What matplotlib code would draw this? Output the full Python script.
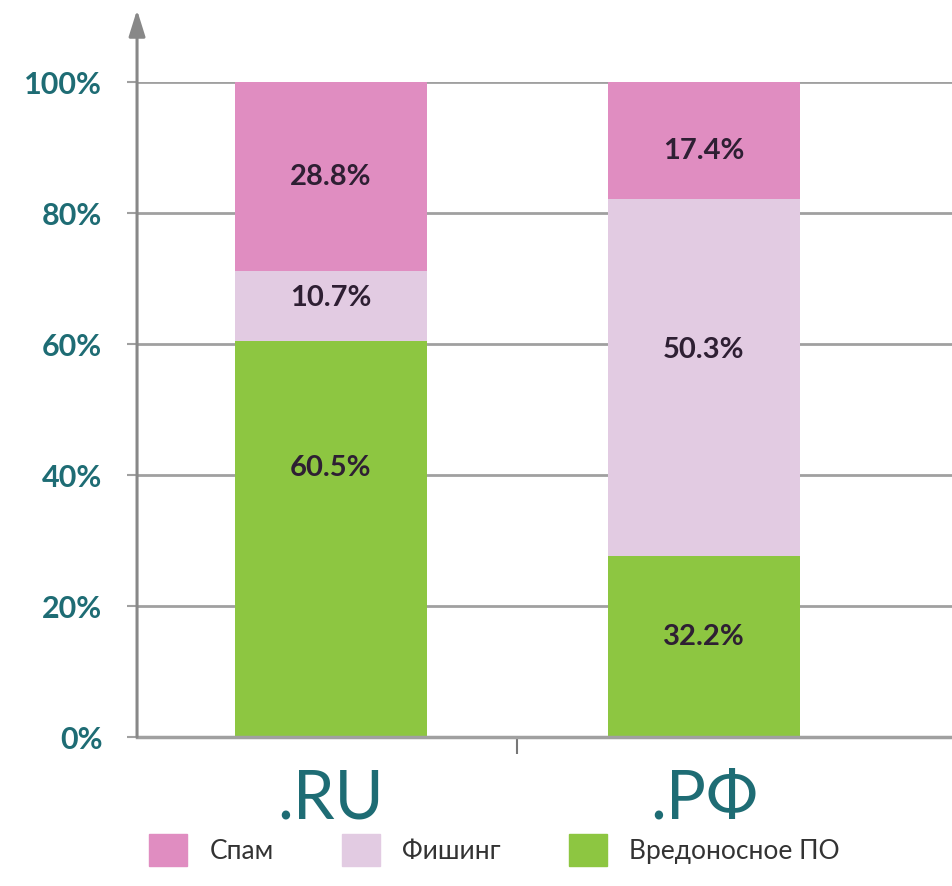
import matplotlib
matplotlib.use("Agg")
import matplotlib.pyplot as plt
from matplotlib.patches import Patch

# Domaines et categories de menaces
domaines = [".RU", ".РФ"]
categories = ["Вредоносное ПО", "Фишинг", "Спам"]

# Hauteurs des segments (en %).
# Attention : pour .РФ la barre dessinee ne correspond pas tout a fait
# aux etiquettes imprimees, on garde donc les deux separement.
malware = [60.5, 27.6]
phishing = [10.7, 54.5]
spam = [28.8, 17.9]

# Textes imprimes dans les barres
lbl_malware = ["60.5%", "32.2%"]
lbl_phishing = ["10.7%", "50.3%"]
lbl_spam = ["28.8%", "17.4%"]

couleurs = ["#8dc641", "#e2cbe2", "#e08dc1"]
TEAL = "#1e6c74"
GRIS = "#a0a0a0"

plt.rcParams["font.family"] = ["Lato", "DejaVu Sans"]

fig = plt.figure(figsize=(9.53, 8.87), dpi=100)
ax = fig.add_axes([0.1438, 0.168, 0.8562, 0.7385])

x = [0, 1]
largeur = 0.515
bas2 = [m + p for m, p in zip(malware, phishing)]

ax.bar(x, malware, largeur, color=couleurs[0], zorder=2)
ax.bar(x, phishing, largeur, bottom=malware, color=couleurs[1], zorder=2)
ax.bar(x, spam, largeur, bottom=bas2, color=couleurs[2], zorder=2)

# position verticale de l'etiquette dans le segment (0.5 = milieu)
pos_malware = [0.68, 0.56]
pos_phishing = [0.62, 0.58]
pos_spam = [0.5, 0.42]

style = dict(ha="center", va="center", fontsize=21, fontweight="bold",
             color="#2e1f33", zorder=3)
for i in x:
    ax.text(i, malware[i] * pos_malware[i], lbl_malware[i], **style)
    ax.text(i, malware[i] + phishing[i] * pos_phishing[i], lbl_phishing[i], **style)
    ax.text(i, bas2[i] + spam[i] * pos_spam[i], lbl_spam[i], **style)

ax.set_xlim(-0.52, 1.668)
ax.set_ylim(0, 100)

# axe des y
ax.set_yticks([0, 20, 40, 60, 80, 100])
ax.set_yticklabels(["0%", "20%", "40%", "60%", "80%", "100%"])
ax.tick_params(axis="y", length=7, width=1.5, color=GRIS, pad=18,
               labelsize=22, labelcolor=TEAL)
for t in ax.get_yticklabels():
    t.set_fontweight("bold")
ax.yaxis.grid(True, color=GRIS, linewidth=2, zorder=0)

# axe des x : noms des domaines, petit trait au milieu
ax.set_xticks(x)
ax.set_xticklabels(domaines)
ax.tick_params(axis="x", which="major", length=0, pad=22,
               labelsize=48, labelcolor=TEAL)
ax.set_xticks([0.5], minor=True)
ax.tick_params(axis="x", which="minor", length=12, width=1.5, color="#777777")

for cote in ["top", "right", "left"]:
    ax.spines[cote].set_visible(False)
ax.spines["bottom"].set_color(GRIS)
ax.spines["bottom"].set_linewidth(2.5)

# axe vertical avec fleche
ax.annotate("", xy=(0, 1.11), xycoords="axes fraction", xytext=(0, 0),
            arrowprops=dict(arrowstyle="-|>,head_length=1.6,head_width=0.5",
                            color="#888888", lw=2.2, shrinkA=0, shrinkB=0),
            annotation_clip=False)

# legende en bas
poignees = [Patch(color=couleurs[2]), Patch(color=couleurs[1]),
            Patch(color=couleurs[0])]
noms = ["Спам", "Фишинг", "Вредоносное ПО"]
fig.legend(poignees, noms, loc="lower center", bbox_to_anchor=(0.519, -0.004),
           ncol=3, frameon=False, fontsize=19, handlelength=1.44,
           handleheight=1.5, handletextpad=0.83, columnspacing=2.6,
           labelcolor="#333333")

fig.savefig("out.png", dpi=100)
